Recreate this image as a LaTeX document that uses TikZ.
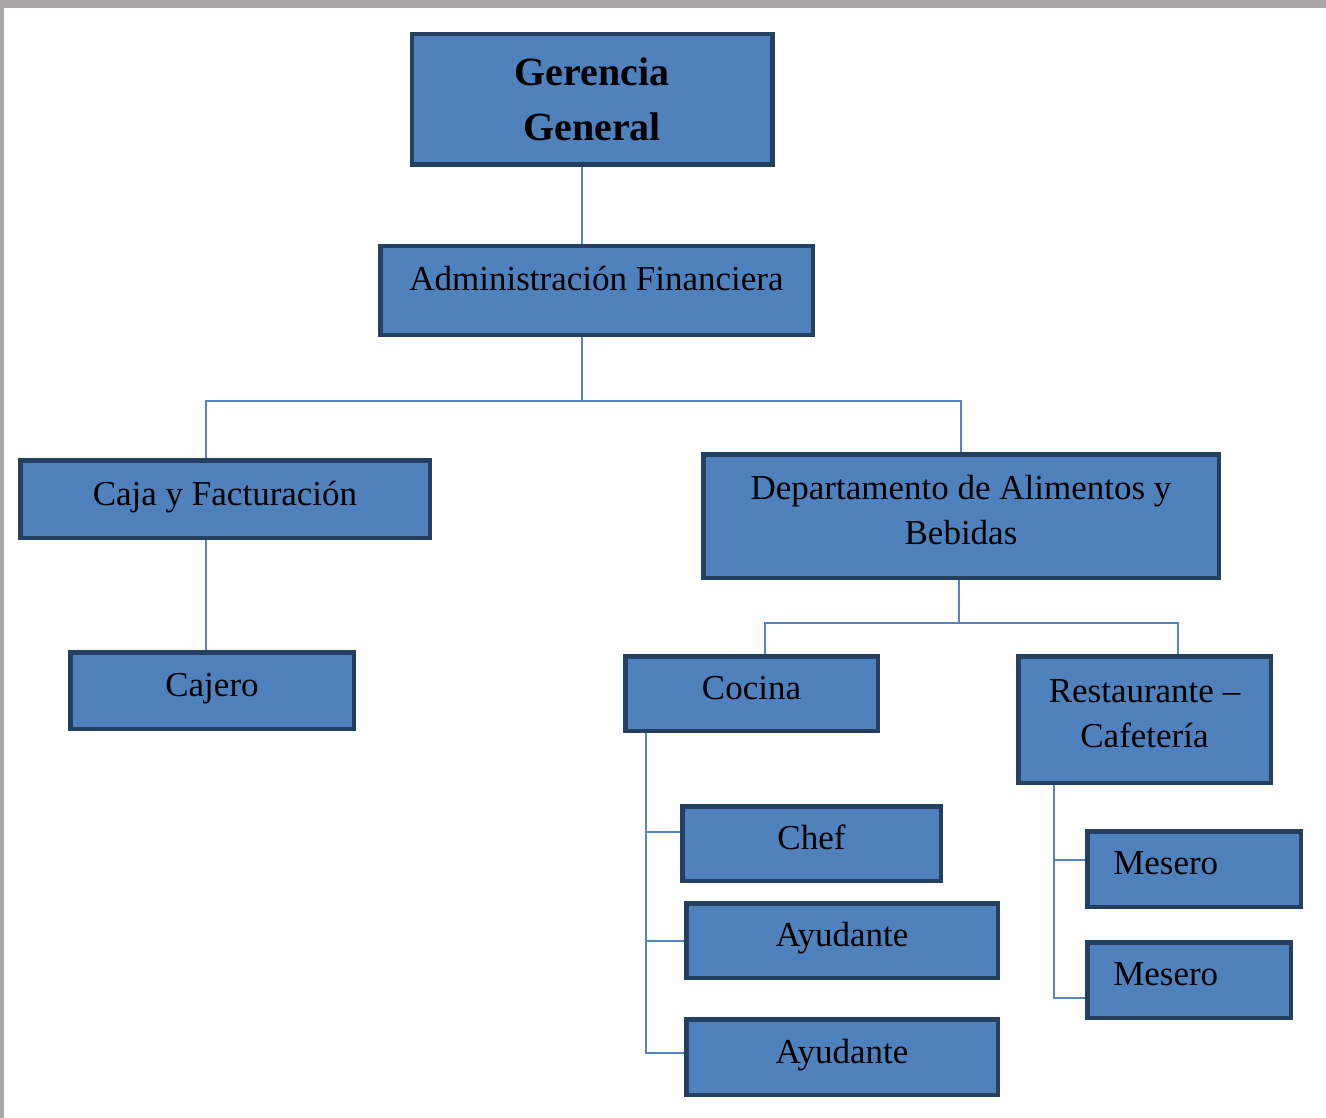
\documentclass[tikz,border=0pt]{standalone}
\usepackage{fontspec}
\setmainfont{Liberation Serif}
\definecolor{boxfill}{HTML}{4F81BD}
\definecolor{boxline}{HTML}{243F60}
\definecolor{linkblue}{HTML}{5585C2}
\definecolor{edgegray}{HTML}{A9A7A8}

\begin{document}
\begin{tikzpicture}
[
x=1pt, y=-1pt,
box/.style={rectangle, draw=boxline, fill=boxfill, line width=4.5pt, align=center, text depth=12pt, font=\fontsize{35}{45}\selectfont},
title/.style={font=\bfseries\fontsize{40}{55}\selectfont, text depth=0pt},
leftbox/.style={box, align=left, inner xsep=26pt},
link/.style={draw=linkblue, line width=2pt},
]
\useasboundingbox (0,0) rectangle (1326,1118);
\fill [edgegray] (0,0) rectangle (1326,8);
\fill [edgegray] (0,0) rectangle (4,1118);

\node (gerencia) [box, title, minimum width=360.5pt, minimum height=130.5pt] at (592,99.5) {Gerencia\\General};
\node (admin)    [box, text depth=24pt, minimum width=432.5pt, minimum height=88.5pt] at (596.5,290.5) {Administración Financiera};
\node (caja)     [box, minimum width=409.5pt, minimum height=77.5pt] at (225,499) {Caja y Facturación};
\node (cajero)   [box, minimum width=283.5pt, minimum height=76.5pt] at (212,690.5) {Cajero};
\node (depto)    [box, minimum width=515.5pt, minimum height=123.5pt] at (961,516) {Departamento de Alimentos y\\Bebidas};
\node (cocina)   [box, minimum width=252.5pt, minimum height=74.5pt] at (751.5,693.5) {Cocina};
\node (rest)     [box, minimum width=252.5pt, minimum height=126.5pt] at (1144.5,719.5) {Restaurante --\\Cafetería};
\node (chef)     [box, minimum width=258.5pt, minimum height=74.5pt] at (811.5,843.5) {Chef};
\node (ayud1)    [box, minimum width=311.5pt, minimum height=74.5pt] at (842,940.5) {Ayudante};
\node (ayud2)    [box, minimum width=311.5pt, minimum height=75.5pt] at (842,1057) {Ayudante};
\node (mesero1)  [leftbox, text width=161.5pt, minimum width=213.5pt, minimum height=75.5pt] at (1194,869) {Mesero};
\node (mesero2)  [leftbox, text width=151.5pt, minimum width=203.5pt, minimum height=75.5pt] at (1189,980) {Mesero};

% first level
\coordinate (bus1) at (582,401);
\coordinate (cajax) at (206,401);
\draw [link] (bus1 |- gerencia.south) -- (bus1 |- admin.north);
\draw [link] (bus1 |- admin.south) -- (bus1);
\draw [link] (cajax |- caja.north) |- (bus1) -| (depto.north);
\draw [link] (cajax |- caja.south) -- (cajax |- cajero.north);

% alimentos y bebidas
\coordinate (bus2) at (959,623);
\coordinate (cocx) at (765,623);
\coordinate (resx) at (1178,623);
\draw [link] (bus2 |- depto.south) -- (bus2);
\draw [link] (cocx |- cocina.north) -- (cocx) -- (resx) -- (resx |- rest.north);

% cocina
\coordinate (kb1) at (646,832);
\coordinate (kb2) at (646,941);
\coordinate (kb3) at (646,1053);
\draw [link] (kb1 |- cocina.south) -- (kb3) -- (kb3 -| ayud2.west);
\draw [link] (kb1) -- (kb1 -| chef.west);
\draw [link] (kb2) -- (kb2 -| ayud1.west);

% restaurante
\coordinate (rb1) at (1054,860);
\coordinate (rb2) at (1054,998);
\draw [link] (rb1 |- rest.south) -- (rb2) -- (rb2 -| mesero2.west);
\draw [link] (rb1) -- (rb1 -| mesero1.west);
\end{tikzpicture}
\end{document}
